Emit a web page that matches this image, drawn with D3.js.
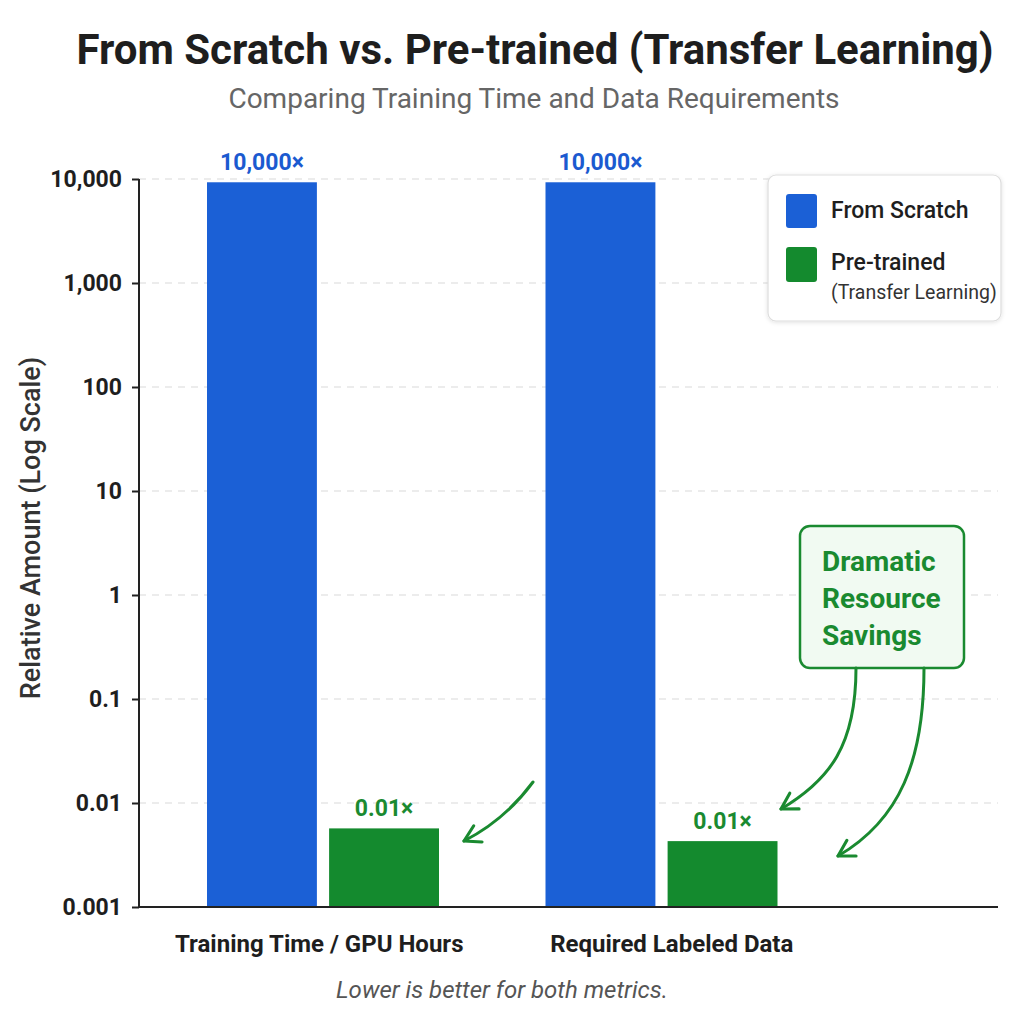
<!DOCTYPE html>
<html>
<head>
<meta charset="utf-8">
<script src="https://cdn.jsdelivr.net/npm/d3@7"></script>
<style>
  body { margin: 0; background: #fff; }
  text { font-family: Roboto, "Liberation Sans", sans-serif; }
</style>
</head>
<body>
<div id="chart"></div>
<script>
const width = 1024
const height = 1024
const margin = { top: 179, bottom: 117, left: 139, right: 26 }

// data
const categories = ["Training Time / GPU Hours", "Required Labeled Data"]
const series = ["From Scratch", "Pre-trained"]
const fromScratch = [9300, 9300]
const preTrained = [0.0057, 0.0043]
const barLabels = [["10,000×", "10,000×"], ["0.01×", "0.01×"]]
const tickValues = [10000, 1000, 100, 10, 1, 0.1, 0.01, 0.001]
const tickLabels = ["10,000", "1,000", "100", "10", "1", "0.1", "0.01", "0.001"]
const colors = ["#1b60d6", "#148a2e"]

const data = categories.map((c, i) => ({ cat: c, values: [fromScratch[i], preTrained[i]] }))

const innerW = width - margin.left - margin.right
const innerH = height - margin.top - margin.bottom

const svg = d3.select("#chart").append("svg").attr("width", width).attr("height", height)
const defs = svg.append("defs")
defs.append("marker").attr("id", "arrow").attr("viewBox", "0 0 10 10")
    .attr("refX", 8).attr("refY", 5).attr("markerWidth", 8).attr("markerHeight", 8)
    .attr("orient", "auto-start-reverse").attr("markerUnits", "strokeWidth")
    .append("path").attr("d", "M1.5,1.2 L8,5 L1.5,8.8").attr("fill", "none")
    .attr("stroke", "#1a8a30").attr("stroke-width", 1.3).attr("stroke-linecap", "round").attr("stroke-linejoin", "round")
const shadow = defs.append("filter").attr("id", "shadow").attr("x", "-10%").attr("y", "-10%").attr("width", "130%").attr("height", "130%")
shadow.append("feDropShadow").attr("dx", 0).attr("dy", 1).attr("stdDeviation", 2).attr("flood-color", "#000").attr("flood-opacity", 0.12)

// titles
svg.append("text").attr("x", 535).attr("y", 64).attr("text-anchor", "middle")
    .attr("font-size", 42).attr("font-weight", 700).attr("fill", "#1e1e1e")
    .text("From Scratch vs. Pre-trained (Transfer Learning)")
svg.append("text").attr("x", 534).attr("y", 108).attr("text-anchor", "middle")
    .attr("font-size", 28).attr("fill", "#666")
    .text("Comparing Training Time and Data Requirements")

const g = svg.append("g").attr("transform", `translate(${margin.left}, ${margin.top})`)

const y = d3.scaleLog().domain([0.001, 10000]).range([innerH, 0])
const x0 = d3.scaleBand().domain(categories).range([15, 15 + 677])
const x1 = d3.scaleBand().domain(series).range([53, 285]).paddingInner(0.1)

// grid
g.append("g").selectAll("line").data(tickValues.slice(0, -1)).join("line")
    .attr("x1", 0).attr("x2", innerW)
    .attr("y1", d => y(d)).attr("y2", d => y(d))
    .attr("stroke", "#d9d9d9").attr("stroke-width", 1.2).attr("stroke-dasharray", "7,6")

// bars
const groups = g.selectAll("g.group").data(data).join("g").attr("class", "group")
    .attr("transform", d => `translate(${x0(d.cat)}, 0)`)
groups.selectAll("rect").data(d => d.values.map((v, i) => ({ s: series[i], v: v, i: i }))).join("rect")
    .attr("x", d => x1(d.s))
    .attr("y", d => y(d.v))
    .attr("width", x1.bandwidth())
    .attr("height", d => innerH - y(d.v))
    .attr("fill", d => colors[d.i])
groups.each(function (d, ci) {
    d3.select(this).selectAll("text.val").data(d.values).join("text").attr("class", "val")
        .attr("x", (v, i) => x1(series[i]) + x1.bandwidth() / 2)
        .attr("y", v => y(v) - 12)
        .attr("text-anchor", "middle").attr("font-size", 23).attr("font-weight", 700)
        .attr("fill", (v, i) => i === 0 ? "#1b5ad0" : "#1a8a30")
        .text((v, i) => barLabels[i][ci])
})

// axes
const yAxis = d3.axisLeft(y).tickValues(tickValues).tickFormat((d, i) => tickLabels[i]).tickSize(7).tickPadding(10)
const yAxisGroup = g.append("g").call(yAxis)
yAxisGroup.select(".domain").attr("d", `M0,0V${innerH}`).attr("stroke", "#222").attr("stroke-width", 2)
yAxisGroup.selectAll(".tick line").attr("stroke", "#222").attr("stroke-width", 2)
yAxisGroup.selectAll(".tick text").attr("font-size", 23).attr("font-weight", 700).attr("fill", "#1e1e1e")
    .attr("font-family", "Roboto, sans-serif")

const xAxis = d3.axisBottom(x0).tickSize(0).tickPadding(28)
const xAxisGroup = g.append("g").attr("transform", `translate(0, ${innerH})`).call(xAxis)
xAxisGroup.select(".domain").attr("d", `M0,0H${innerW}`).attr("stroke", "#222").attr("stroke-width", 2)
xAxisGroup.selectAll(".tick text").attr("font-size", 24).attr("font-weight", 700).attr("fill", "#1e1e1e")
    .attr("font-family", "Roboto, sans-serif")
    .attr("dx", (d, i) => i === 0 ? -4 : 10)

// y label
svg.append("text").attr("transform", `translate(40, 528) rotate(-90)`).attr("text-anchor", "middle")
    .attr("font-size", 27).attr("font-weight", 500).attr("fill", "#333")
    .text("Relative Amount (Log Scale)")

// legend
const legend = svg.append("g").attr("transform", "translate(768, 175)")
legend.append("rect").attr("width", 233).attr("height", 146).attr("rx", 8)
    .attr("fill", "#fff").attr("stroke", "#ddd").attr("stroke-width", 1.2).attr("filter", "url(#shadow)")
legend.append("rect").attr("x", 18).attr("y", 19).attr("width", 31).attr("height", 34).attr("rx", 3).attr("fill", colors[0])
legend.append("rect").attr("x", 18).attr("y", 72).attr("width", 31).attr("height", 35).attr("rx", 3).attr("fill", colors[1])
legend.append("text").attr("x", 63).attr("y", 43).attr("font-size", 23).attr("font-weight", 500).attr("fill", "#1e1e1e").text("From Scratch")
legend.append("text").attr("x", 63).attr("y", 95).attr("font-size", 23).attr("font-weight", 500).attr("fill", "#1e1e1e").text("Pre-trained")
legend.append("text").attr("x", 63).attr("y", 124).attr("font-size", 19.5).attr("fill", "#333").text("(Transfer Learning)")

// annotation
const note = svg.append("g")
note.append("rect").attr("x", 800).attr("y", 526).attr("width", 164).attr("height", 142).attr("rx", 10)
    .attr("fill", "#f1faf2").attr("stroke", "#1a8a30").attr("stroke-width", 2.5)
const noteLines = ["Dramatic", "Resource", "Savings"]
note.selectAll("text").data(noteLines).join("text")
    .attr("x", 822).attr("y", (d, i) => 571 + i * 37)
    .attr("font-size", 28).attr("font-weight", 700).attr("fill", "#1a8a30").text(d => d)

const arrows = [
    "M533,782 Q505,820 464,841",
    "M856,668 C856,745 830,780 781,809",
    "M924,668 C924,760 900,820 838,856"
]
svg.append("g").selectAll("path").data(arrows).join("path")
    .attr("d", d => d).attr("fill", "none").attr("stroke", "#1a8a30").attr("stroke-width", 3)
    .attr("stroke-linecap", "round").attr("marker-end", "url(#arrow)")

// footer
svg.append("text").attr("x", 502).attr("y", 998).attr("text-anchor", "middle")
    .attr("font-size", 24).attr("font-style", "italic").attr("fill", "#555")
    .text("Lower is better for both metrics.")
</script>
</body>
</html>
